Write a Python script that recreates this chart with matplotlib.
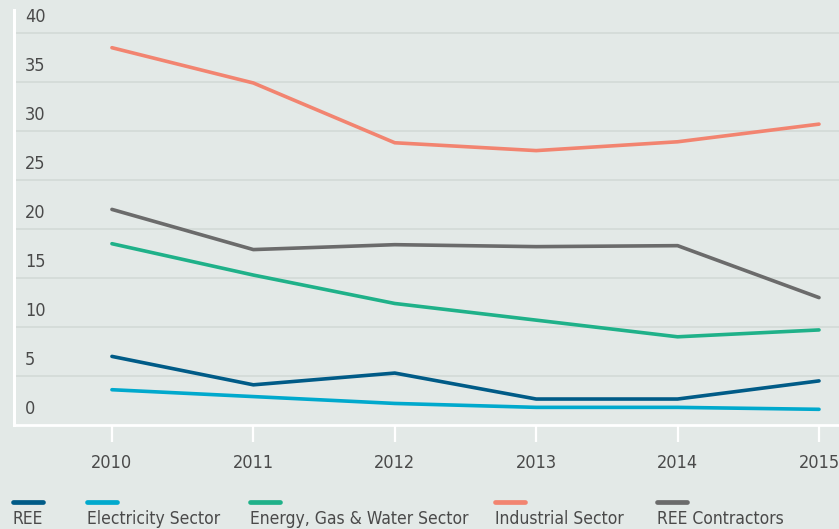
import matplotlib
matplotlib.use("Agg")
import matplotlib.pyplot as plt
from matplotlib.lines import Line2D
import matplotlib.transforms as mtransforms

plt.rcParams['font.family'] = ['Liberation Sans Narrow', 'DejaVu Sans']
plt.rcParams['font.stretch'] = 'condensed'

years = [2010, 2011, 2012, 2013, 2014, 2015]
ree = [7.0, 4.1, 5.3, 2.65, 2.65, 4.5]
electricity = [3.6, 2.9, 2.2, 1.8, 1.8, 1.6]
energy = [18.5, 15.3, 12.4, 10.7, 9.0, 9.7]
industrial = [38.5, 34.9, 28.8, 28.0, 28.9, 30.7]
contractors = [22.0, 17.9, 18.4, 18.2, 18.3, 13.0]
yticks = [0, 5, 10, 15, 20, 25, 30, 35, 40]

names = ["REE", "Electricity Sector", "Energy, Gas & Water Sector",
         "Industrial Sector", "REE Contractors"]
series = [ree, electricity, energy, industrial, contractors]
colors = ["#005b87", "#00a9cd", "#1fb189", "#f28470", "#6b6b6b"]

bg = "#e3e9e7"
grid_c = "#d3dad7"
txt_c = "#4a4a4a"

W, H = 839, 529
fig = plt.figure(figsize=(W / 100, H / 100), dpi=100, facecolor=bg)
ax = fig.add_axes([14 / W, (H - 425) / H, (W - 14) / W, 415 / H])
ax.set_facecolor(bg)

# draw order: lower lines on top like reference
for vals, c in zip(series[::-1], colors[::-1]):
    ax.plot(years, vals, color=c, lw=2.6, solid_capstyle='round', zorder=3)

ax.set_xlim(2010 - 98 / 141.5, 2015 + 20 / 141.5)
ax.set_ylim(0, 415 / 9.8)

for v in yticks[1:]:
    ax.axhline(v, color=grid_c, lw=1.2, zorder=1)
ax.set_yticks([])

# y labels sit just above their gridline
off = mtransforms.offset_copy(ax.get_yaxis_transform(), fig=fig, x=11, y=7, units='dots')
for v in yticks:
    ax.text(0, v, str(v), transform=off, ha='left', va='bottom',
            fontsize=13, color=txt_c)

ax.set_xticks(years)
ax.set_xticklabels([str(y) for y in years])
ax.tick_params(axis='x', direction='out', length=12, width=1.6, color='white',
               pad=9, labelsize=13, labelcolor=txt_c)

for s in ['top', 'right']:
    ax.spines[s].set_visible(False)
ax.spines['left'].set_color('white')
ax.spines['left'].set_linewidth(2.2)
ax.spines['bottom'].set_color('white')
ax.spines['bottom'].set_linewidth(2.0)

# legend: short bar above each label
leg_x = [13, 87, 250, 495, 657]
for x, name, c in zip(leg_x, names, colors):
    fig.add_artist(Line2D([x / W, (x + 30) / W], [(H - 502) / H] * 2,
                          color=c, lw=3.4, solid_capstyle='round',
                          transform=fig.transFigure))
    fig.text(x / W, (H - 519) / H, name, ha='left', va='center',
             fontsize=12.5, color=txt_c)

fig.savefig("out.png", dpi=100, facecolor=bg)
